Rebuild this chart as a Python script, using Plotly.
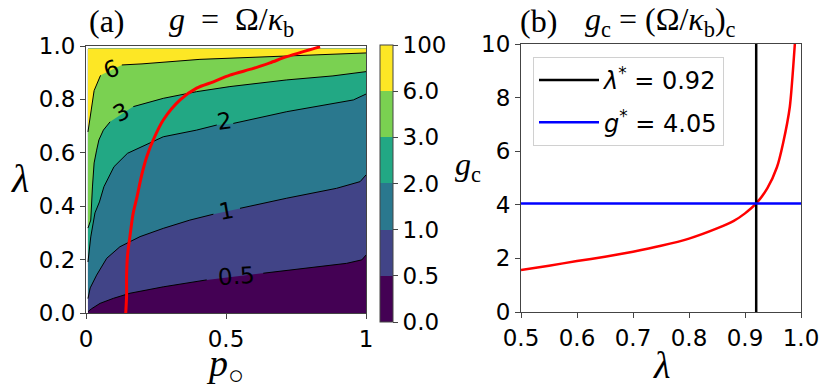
import plotly.graph_objects as go

W, H = 830, 391

# ---------------- panel (a): g = Omega/kappa_b over (p, lambda) ----------------
band_colors = ["#440154", "#414487", "#2a788e", "#22a884", "#7ad151", "#fde725"]
cbar_ticks = ["0.0", "0.5", "1.0", "2.0", "3.0", "6.0", "100"]
level_labels = ["0.5", "1", "2", "3", "6"]

# extent of the computed grid
p_range = [0.007, 1.0]
lam_range = [0.0, 0.99]

# contour lines (None = gap left for the inline label)
c05_p = [0.007, 0.02, 0.05, 0.098, 0.157, 0.276, 0.431, None, 0.633, 0.776, 0.931, 0.985, 1.0]
c05_lam = [0.005, 0.016, 0.036, 0.055, 0.074, 0.098, 0.124, None, 0.149, 0.167, 0.186, 0.199, 0.217]

c1_p = [0.007, 0.015, 0.038, 0.074, 0.121, 0.193, 0.276, 0.371, 0.455, None, 0.55, 0.717, 0.895, 0.979, 1.0]
c1_lam = [0.054, 0.094, 0.142, 0.205, 0.248, 0.286, 0.317, 0.348, 0.370, None, 0.392, 0.430, 0.467, 0.492, 0.517]

c2_p = [0.007, 0.017, 0.032, 0.048, 0.064, 0.1, 0.148, 0.201, 0.276, 0.395, 0.467, None, 0.526, 0.717, 0.955, 1.0]
c2_lam = [0.191, 0.285, 0.375, 0.416, 0.473, 0.548, 0.598, 0.623, 0.660, 0.685, 0.704, None, 0.710, 0.754, 0.798, 0.82]

c3_p = [0.007, 0.017, 0.023, 0.029, 0.038, 0.046, 0.062, 0.086, None, 0.169, 0.276, 0.395, 0.514, 0.717, 0.882, 1.0]
c3_lam = [0.318, 0.348, 0.472, 0.562, 0.610, 0.648, 0.685, 0.716, None, 0.773, 0.804, 0.829, 0.848, 0.873, 0.888, 0.904]

c6_p = [0.007, 0.017, 0.029, 0.052, None, 0.128, 0.2, 0.407, 0.646, 0.882, 1.0]
c6_lam = [0.678, 0.758, 0.833, 0.89, None, 0.929, 0.933, 0.950, 0.960, 0.969, 0.974]

label_p = [0.536, 0.5, 0.496, 0.127, 0.092]
label_lam = [0.139, 0.382, 0.719, 0.751, 0.914]
label_angle = [-4, -10, -8, -28, -22]

# red critical line in panel (a)
crit_p = [0.142, 0.145, 0.145, 0.148, 0.157, 0.168, 0.182, 0.199, 0.217, 0.240, 0.276,
          0.336, 0.395, 0.455, 0.514, 0.598, 0.657, 0.717, 0.776, 0.836]
crit_lam = [0.0, 0.067, 0.139, 0.213, 0.288, 0.371, 0.434, 0.517, 0.585, 0.648, 0.723,
            0.798, 0.842, 0.866, 0.891, 0.916, 0.937, 0.960, 0.979, 0.997]

# ---------------- panel (b): g_c vs lambda ----------------
gc_lam = [0.50, 0.55, 0.60, 0.65, 0.70, 0.75, 0.80, 0.85, 0.88, 0.90, 0.92, 0.94, 0.957, 0.968, 0.98, 0.989]
gc_val = [1.57, 1.73, 1.90, 2.06, 2.25, 2.47, 2.74, 3.12, 3.40, 3.68, 4.05, 4.62, 5.4, 6.3, 7.65, 10.0]
lam_star = 0.92
g_star = 4.05

contours = [(c05_p, c05_lam), (c1_p, c1_lam), (c2_p, c2_lam), (c3_p, c3_lam), (c6_p, c6_lam)]

fig = go.Figure()

# base band
fig.add_trace(go.Scatter(
    x=[p_range[0], p_range[1], p_range[1], p_range[0]],
    y=[lam_range[0], lam_range[0], lam_range[1], lam_range[1]],
    fill="toself", fillcolor=band_colors[0], line=dict(width=0),
    mode="lines", hoverinfo="skip", showlegend=False, xaxis="x", yaxis="y"))

# each higher band is painted over the region above its contour line
for (cp, cl), col in zip(contours, band_colors[1:]):
    px = [v for v in cp if v is not None] + [p_range[1], p_range[0]]
    py = [v for v in cl if v is not None] + [lam_range[1], lam_range[1]]
    fig.add_trace(go.Scatter(
        x=px, y=py, fill="toself", fillcolor=col, line=dict(width=0),
        mode="lines", hoverinfo="skip", showlegend=False, xaxis="x", yaxis="y"))

for cp, cl in contours:
    fig.add_trace(go.Scatter(
        x=cp, y=cl, mode="lines", line=dict(color="black", width=1),
        connectgaps=False, hoverinfo="skip", showlegend=False, xaxis="x", yaxis="y"))

fig.add_trace(go.Scatter(
    x=crit_p, y=crit_lam, mode="lines", line=dict(color="#ff0000", width=3, shape="spline", smoothing=0.8),
    hoverinfo="skip", showlegend=False, xaxis="x", yaxis="y"))

# colorbar carrier
n_bands = len(band_colors)
cscale = []
for i, c in enumerate(band_colors):
    cscale.append([i / n_bands, c])
    cscale.append([(i + 1) / n_bands, c])
fig.add_trace(go.Scatter(
    x=[None], y=[None], mode="markers", showlegend=False, hoverinfo="skip",
    marker=dict(color=[0], cmin=0, cmax=n_bands, colorscale=cscale, showscale=True,
                colorbar=dict(
                    x=380 / W, xanchor="left", xpad=0, ypad=0,
                    y=1 - (45 + 322) / 2 / H, yanchor="middle",
                    len=277 / H, lenmode="fraction",
                    thickness=13, thicknessmode="pixels",
                    tickvals=list(range(n_bands + 1)), ticktext=cbar_ticks,
                    ticks="outside", ticklen=5, tickcolor="#444",
                    outlinewidth=1, outlinecolor="#444",
                    tickfont=dict(family="DejaVu Sans", size=23, color="black"))),
    xaxis="x", yaxis="y"))

# panel (b)
fig.add_trace(go.Scatter(
    x=gc_lam, y=gc_val, mode="lines", line=dict(color="#ff0000", width=2.5, shape="spline", smoothing=0.6),
    hoverinfo="skip", showlegend=False, xaxis="x2", yaxis="y2"))
fig.add_trace(go.Scatter(
    x=[lam_star, lam_star], y=[0, 10], mode="lines", line=dict(color="black", width=2.5),
    name=f"<i>λ</i><sup>*</sup> = {lam_star:.2f}", legendgroup="a",
    hoverinfo="skip", xaxis="x2", yaxis="y2"))
fig.add_trace(go.Scatter(
    x=[0.5, 1.0], y=[g_star, g_star], mode="lines", line=dict(color="#0000ff", width=2.5),
    name=f"<i>g</i><sup>*</sup> = {g_star:.2f}", legendgroup="b",
    hoverinfo="skip", xaxis="x2", yaxis="y2"))

tick_font = dict(family="DejaVu Sans", size=23, color="black")
axis_common = dict(showline=True, mirror=True, linecolor="#444", linewidth=1,
                   ticks="outside", ticklen=5, tickcolor="#444", showgrid=False,
                   zeroline=False, tickfont=tick_font, fixedrange=True, automargin=False)

fig.update_layout(
    width=W, height=H,
    margin=dict(l=0, r=0, t=0, b=0, autoexpand=False),
    paper_bgcolor="white", plot_bgcolor="white",
    xaxis=dict(domain=[86 / W, 366 / W], range=[0, 1], tickvals=[0, 0.5, 1],
               ticktext=["0", "0.5", "1"], anchor="y", **axis_common),
    yaxis=dict(domain=[1 - 313 / H, 1 - 46 / H], range=[0, 1],
               tickvals=[0, 0.2, 0.4, 0.6, 0.8, 1.0], tickformat=".1f", anchor="x", **axis_common),
    xaxis2=dict(domain=[521 / W, 801 / W], range=[0.5, 1.0],
                tickvals=[0.5, 0.6, 0.7, 0.8, 0.9, 1.0], tickformat=".1f", anchor="y2", **axis_common),
    yaxis2=dict(domain=[1 - 312 / H, 1 - 44 / H], range=[0, 10],
                tickvals=[0, 2, 4, 6, 8, 10], anchor="x2", **axis_common),
    legend=dict(x=533 / W, y=1 - 57 / H, xanchor="left", yanchor="top",
                bgcolor="rgba(255,255,255,0.8)", bordercolor="#d0d0d0", borderwidth=1,
                font=dict(family="DejaVu Sans", size=24, color="black"),
                tracegroupgap=8, itemwidth=60),
    showlegend=True,
)

# inline contour labels
for lp, ll, txt, ang in zip(label_p, label_lam, level_labels, label_angle):
    fig.add_annotation(x=lp, y=ll, xref="x", yref="y", text=txt, textangle=ang,
                       showarrow=False, font=dict(family="DejaVu Sans", size=23, color="black"))

serif = "Liberation Serif"
texts = [
    ("(a)", 87, 21, "left", 32),
    ("<i>g</i>  =  Ω/<i>κ</i><sub>b</sub>", 167, 21, "left", 32),
    ("(b)", 518, 21, "left", 32),
    ("<i>g</i><sub>c</sub> = (Ω/<i>κ</i><sub>b</sub>)<sub>c</sub>", 583, 21, "left", 32),
    ("<i>λ</i>", 20, 178, "center", 40),
    ("<i>p</i><sub>○</sub>", 225, 366, "center", 38),
    ("<i>λ</i>", 661, 365, "center", 38),
    ("<i>g</i><sub>c</sub>", 468, 166, "center", 32),
]
for txt, xp, yp, anc, sz in texts:
    fig.add_annotation(x=xp / W, y=1 - yp / H, xref="paper", yref="paper", text=txt,
                       xanchor=anc, yanchor="middle", showarrow=False,
                       font=dict(family=serif, size=sz, color="black"))

# page body has a default 8px margin; drop it so the figure sits at the window corner
fig.write_html("out.html", config={"displayModeBar": False},
               post_script="document.body.style.margin='0';")
